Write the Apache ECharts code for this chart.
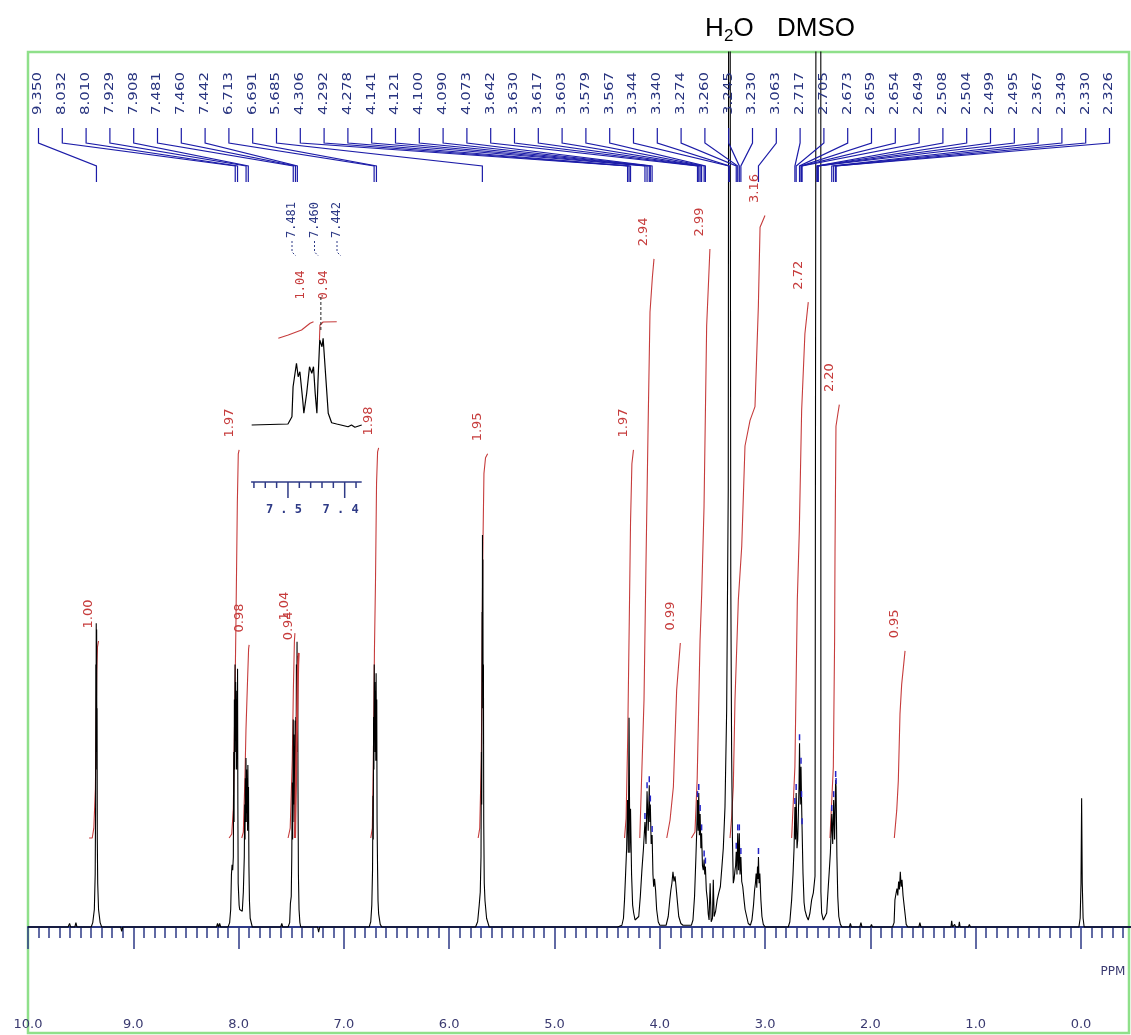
<!DOCTYPE html>
<html><head><meta charset="utf-8">
<script src="https://cdn.jsdelivr.net/npm/echarts@6/dist/echarts.min.js"></script>
<style>html,body{margin:0;padding:0;background:#fff}#c{width:1131px;height:1035px}</style>
</head><body><div id="c"></div>
<script>
// ---------------- DATA ----------------
// picked peaks (ppm), listed left to right at the top
const peakList = [9.350, 8.032, 8.010, 7.929, 7.908, 7.481, 7.460, 7.442, 6.713, 6.691, 5.685,
  4.306, 4.292, 4.278, 4.141, 4.121, 4.100, 4.090, 4.073, 3.642, 3.630, 3.617, 3.603, 3.579, 3.567,
  3.344, 3.340, 3.274, 3.260, 3.245, 3.230, 3.063, 2.717, 2.705, 2.673, 2.659, 2.654, 2.649,
  2.508, 2.504, 2.499, 2.495, 2.367, 2.349, 2.330, 2.326];

// spectrum [ppm, intensity] by region
const specHigh = [[10.0,0],[9.62,0],[9.605,0.4],[9.595,0],[9.555,0],[9.545,0.5],[9.535,0],[9.40,0],[9.385,0.5],[9.37,2],[9.362,6],[9.358,14],[9.356,30],[9.354,20],[9.352,34.7],[9.350,28],[9.348,34],[9.346,18],[9.344,25],[9.342,10],[9.338,5],[9.33,2],[9.315,0.5],[9.30,0],[9.12,0],[9.11,-0.5],[9.10,0],[8.21,0],[8.20,0.4],[8.19,0],[8.18,0.4],[8.17,0]];
const specArom = [[8.10,0],[8.085,0.5],[8.075,2],[8.068,6],[8.062,7.1],[8.056,6.5],[8.050,8],[8.046,20],[8.043,12],[8.040,26],[8.037,18],[8.034,30],[8.031,22],[8.028,28],[8.025,20],[8.022,26],[8.019,18],[8.016,27],[8.013,20],[8.010,29.5],[8.007,14],[8.004,5],[8.0,3.9],[7.995,2.5],[7.99,2],[7.965,1.8],[7.955,4],[7.946,8],[7.942,14],[7.939,10],[7.936,17],[7.933,12],[7.930,19.3],[7.927,13],[7.924,18],[7.921,12],[7.918,17],[7.915,11],[7.912,18.5],[7.909,12],[7.906,16],[7.902,7],[7.897,3],[7.89,1],[7.87,0],[7.60,0],[7.59,0.4],[7.58,0]];
const spec7 = [[7.53,0],[7.515,0.5],[7.508,2.7],[7.50,3.5],[7.495,8],[7.490,16.5],[7.487,10],[7.484,16],[7.481,23.7],[7.478,14],[7.475,22],[7.472,12],[7.469,20],[7.466,14],[7.463,23.6],[7.460,15],[7.457,24],[7.454,18],[7.451,30],[7.448,20],[7.445,32.6],[7.442,22],[7.439,31],[7.436,16],[7.432,6],[7.426,2],[7.418,0.5],[7.41,0],[7.25,0],[7.24,-0.6],[7.23,0],
  [6.76,0],[6.745,0.6],[6.735,2.5],[6.728,6.5],[6.724,15],[6.721,10],[6.718,24],[6.715,18],[6.712,30],[6.709,22],[6.706,28],[6.703,20],[6.700,27],[6.697,19],[6.694,29],[6.691,21],[6.688,26],[6.685,12],[6.680,6.5],[6.676,3],[6.67,1.5],[6.655,0.3],[6.64,0]];
const spec5 = [[5.75,0],[5.73,0.6],[5.715,2.5],[5.705,4],[5.698,8],[5.694,20],[5.691,14],[5.688,36],[5.686,28],[5.684,44.8],[5.682,32],[5.680,42],[5.678,25],[5.675,30],[5.672,12],[5.667,5],[5.66,3],[5.645,1],[5.62,0]];
const specAli = [[4.40,0],[4.36,0.2],[4.345,1.0],[4.335,3.1],[4.325,6],[4.315,9],[4.306,14.5],[4.299,8.5],[4.292,23.9],[4.285,8.5],[4.278,13.5],[4.268,6],[4.258,2.5],[4.248,1.6],[4.235,0.8],[4.22,0.6],[4.20,1.2],[4.185,3.5],[4.17,6.5],[4.155,9],[4.141,12],[4.131,9.5],[4.121,15.5],[4.110,11],[4.100,16.2],[4.095,12],[4.090,14],[4.082,9.5],[4.073,10.5],[4.065,6],[4.058,4.6],[4.05,5.5],[4.04,4.2],[4.03,2],[4.015,0.6],[4.00,0.2],[3.94,0.2],[3.92,1.2],[3.905,3.1],[3.895,4.2],[3.885,5.0],[3.875,6.3],[3.865,5.2],[3.855,5.8],[3.845,4.5],[3.83,2.5],[3.82,1.2],[3.80,0.4],[3.78,0.2],[3.70,0.2],[3.685,0.8],[3.67,3.5],[3.657,8],[3.650,10.7],[3.642,14.5],[3.636,11],[3.630,15.3],[3.624,10.5],[3.617,12.9],[3.610,9],[3.603,10.7],[3.595,7],[3.587,6.5],[3.579,7.7],[3.573,6],[3.567,6.9],[3.558,4.2],[3.548,3.1],[3.54,1.5],[3.532,0.8],[3.522,5.0],[3.512,0.6],[3.50,1.0],[3.492,5.4],[3.484,1.2],[3.47,1.8],[3.455,3.1],[3.44,3.9],[3.425,4.6],[3.41,6.9],[3.397,9],[3.381,13.7],[3.365,24.8],[3.350,50],[3.340,200],[3.336,200],[3.326,40],[3.318,20],[3.310,10],[3.302,5.0],[3.294,5.5],[3.286,6.5],[3.280,7],[3.274,8.6],[3.267,6],[3.260,10.7],[3.252,6.5],[3.245,10.7],[3.238,6],[3.230,8.0],[3.222,5.2],[3.212,4.6],[3.20,3.1],[3.19,2.0],[3.175,1.2],[3.16,0.4],[3.14,0.2],[3.125,0.8],[3.11,2.5],[3.10,4.2],[3.092,5],[3.085,6.1],[3.079,4.5],[3.072,6.9],[3.068,5.5],[3.063,8.0],[3.057,5],[3.050,6.1],[3.04,3.1],[3.03,1.2],[3.017,0.3],[3.00,0],[2.78,0],[2.765,0.6],[2.748,3.1],[2.735,6],[2.725,9],[2.717,13.7],[2.711,10],[2.705,15.3],[2.697,9],[2.690,10],[2.684,13],[2.678,16],[2.673,21.0],[2.666,14],[2.659,18.3],[2.654,14.5],[2.649,11.4],[2.640,6.1],[2.630,2.8],[2.621,1.9],[2.605,1.2],[2.59,0.8],[2.574,1.6],[2.558,3.1],[2.542,3.9],[2.526,5.8],[2.512,6],[2.509,200],[2.472,200],[2.470,4],[2.463,1.6],[2.447,0.8],[2.431,0.6],[2.415,1.6],[2.400,4.6],[2.39,6.5],[2.38,8.5],[2.367,12.9],[2.358,9.5],[2.349,14.5],[2.340,10],[2.330,16.8],[2.326,16.0],[2.318,8],[2.31,3.5],[2.30,1.2],[2.285,0.3],[2.27,0],[2.20,0],[2.19,0.4],[2.18,0],[2.10,0],[2.09,0.5],[2.08,0],[2.00,0],[1.99,0.3],[1.98,0]];
const specLow = [[1.79,0],[1.775,0.5],[1.767,3.1],[1.757,3.8],[1.748,4.4],[1.740,3.6],[1.732,5.2],[1.724,4.3],[1.716,6.3],[1.708,4.6],[1.700,5.4],[1.690,3.6],[1.680,2.5],[1.668,1.2],[1.660,0.3],[1.645,0],[1.54,0],[1.53,0.5],[1.52,0],[1.235,0],[1.228,0.7],[1.22,0],[1.20,0.3],[1.19,0],[1.162,0],[1.155,0.6],[1.148,0],[1.07,0],[1.06,0.3],[1.05,0],[0.02,0],[0.008,1],[0.0,5],[-0.006,14.7],[-0.012,5],[-0.02,1],[-0.03,0],[-1.0,0]];

// integral curves [ppm, integral]
const int100 = [[9.42,0],[9.39,0],[9.375,0.05],[9.36,0.25],[9.353,0.55],[9.347,0.85],[9.34,0.97],[9.33,1.0]];
const int197a = [[8.09,0],[8.065,0.02],[8.05,0.15],[8.035,0.7],[8.025,1.1],[8.012,1.7],[8.003,1.95],[7.995,1.97]];
const int098 = [[7.97,0],[7.955,0.03],[7.94,0.3],[7.93,0.55],[7.915,0.8],[7.905,0.96],[7.90,0.98]];
const int104 = [[7.53,0],[7.51,0.05],[7.49,0.4],[7.48,0.75],[7.47,1.0],[7.465,1.04]];
const int094 = [[7.465,0],[7.455,0.3],[7.445,0.6],[7.435,0.88],[7.43,0.94]];
const int198 = [[6.745,0],[6.73,0.05],[6.72,0.4],[6.71,0.95],[6.70,1.3],[6.69,1.8],[6.68,1.96],[6.67,1.98]];
const int195 = [[5.725,0],[5.71,0.05],[5.695,0.4],[5.688,0.9],[5.682,1.4],[5.67,1.85],[5.655,1.93],[5.635,1.95]];
const int197b = [[4.335,0],[4.32,0.1],[4.305,0.5],[4.29,1.1],[4.278,1.6],[4.265,1.9],[4.25,1.97]];
const int294 = [[4.19,0],[4.15,0.70],[4.131,1.40],[4.112,2.06],[4.093,2.67],[4.07,2.85],[4.055,2.94]];
const int099 = [[3.934,0],[3.903,0.09],[3.871,0.26],[3.856,0.50],[3.840,0.75],[3.808,0.97],[3.805,0.99]];
const int299 = [[3.70,0],[3.666,0.03],[3.645,0.3],[3.634,0.58],[3.618,1.0],[3.602,1.24],[3.580,1.68],[3.555,2.60],[3.535,2.85],[3.524,2.99]];
const int316 = [[3.333,0],[3.317,0.11],[3.302,0.26],[3.286,0.70],[3.254,1.21],[3.222,1.48],[3.191,1.99],[3.143,2.12],[3.096,2.19],[3.064,2.70],[3.048,3.10],[3.001,3.16]];
const int272 = [[2.748,0],[2.717,0.36],[2.694,1.21],[2.675,1.56],[2.653,2.17],[2.622,2.56],[2.590,2.72]];
const int220 = [[2.384,0],[2.352,0.36],[2.340,1.0],[2.336,1.46],[2.327,2.09],[2.31,2.15],[2.295,2.2]];
const int095 = [[1.773,0],[1.750,0.14],[1.735,0.29],[1.719,0.63],[1.703,0.78],[1.671,0.95]];
const integralLabels = ['1.00','1.97','0.98','1.04','0.94','1.98','1.95','1.97','2.94','0.99','2.99','3.16','2.72','2.20','0.95'];

// inset (7.40 - 7.55 expansion)
const insetSpec = [[7.564,0],[7.500,0.8],[7.493,6.6],[7.491,30.6],[7.485,49.4],[7.482,38.6],[7.479,42.6],[7.474,20],[7.472,9.4],[7.467,25.4],[7.462,46.6],[7.458,41.4],[7.455,46.6],[7.452,25.4],[7.449,9.4],[7.447,36],[7.444,68],[7.440,62.6],[7.438,69.4],[7.433,36],[7.429,9.4],[7.423,1.8],[7.414,0.8],[7.394,-1.4],[7.388,0],[7.382,-1.8],[7.370,0]];
const insetIntA = [[7.517,69.4],[7.4995,72],[7.476,76],[7.461,81.4],[7.455,82.6]];
const insetIntB = [[7.4445,68],[7.4436,80],[7.438,82.4],[7.414,82.6]];
const insetPeaks = [7.481, 7.460, 7.442];
const insetIntLabels = ['1.04', '0.94'];
const insetTicks = [7.56, 7.54, 7.52, 7.50, 7.48, 7.46, 7.44, 7.42, 7.40, 7.38];
const insetTickLabels = {'7.50': '7 . 5', '7.40': '7 . 4'};

// ---------------- CHART ----------------
const spectrum = [].concat(specHigh, specArom, spec7, spec5, specAli, specLow);
const integrals = [int100, int197a, int098, int104, int094, int198, int195, int197b, int294, int099, int299, int316, int272, int220, int095];

const NAVY = '#2e3a86';
const RED = '#c63c3c';
const LBL_X0 = 38.5, LBL_DX = 23.8;
const INS_X0 = 292, INS_DX = 22.5;

function apexOf(p) {
  for (const pt of spectrum) { if (Math.abs(pt[0] - p) < 1e-6) return pt[1]; }
  return null;
}

const chart = echarts.init(document.getElementById('c'), null, {renderer: 'canvas'});

const series = [];
series.push({
  type: 'line', xAxisIndex: 0, yAxisIndex: 0, data: spectrum, symbol: 'none',
  lineStyle: {color: '#000', width: 1.1}, z: 3, silent: true, animation: false
});
integrals.forEach((arr, k) => {
  series.push({
    type: 'line', xAxisIndex: 0, yAxisIndex: 1, data: arr, symbol: 'none',
    lineStyle: {color: RED, width: k === 4 ? 2.2 : 1.1}, z: k === 4 ? 4 : 2, silent: true, animation: false
  });
});
// integral labels
series.push({
  type: 'custom', xAxisIndex: 0, yAxisIndex: 1, clip: false, silent: true, z: 6,
  data: integrals.map((arr, k) => [arr[arr.length - 1][0], arr[arr.length - 1][1], k]),
  renderItem: function (params, api) {
    const c = api.coord([api.value(0), api.value(1)]);
    return {type: 'text', x: c[0] - 10, y: c[1] - 27, rotation: Math.PI / 2,
      style: {text: integralLabels[api.value(2)], fill: RED, font: '13px "DejaVu Sans"', align: 'center', verticalAlign: 'middle'}};
  }
});
// peak list labels and leader lines
series.push({
  type: 'custom', xAxisIndex: 0, yAxisIndex: 0, clip: false, silent: true, z: 7,
  data: peakList.map((p, i) => [p, i]),
  renderItem: function (params, api) {
    const p = api.value(0), i = api.value(1);
    const xp = api.coord([p, 0])[0];
    const xl = LBL_X0 + i * LBL_DX;
    const ch = [
      {type: 'text', x: xl, y: 93.5, rotation: Math.PI / 2, scaleX: 1.3,
        style: {text: p.toFixed(3), fill: '#27337f', font: '11.5px "DejaVu Sans"', align: 'center', verticalAlign: 'middle'}},
      {type: 'polyline', shape: {points: [[xl, 128], [xl, 143], [xp, 166], [xp, 182]]},
        style: {stroke: '#1c1ca8', lineWidth: 1.2, fill: null}}
    ];
    const a = apexOf(p);
    if (a !== null && a < 100 && p < 4.2) {
      const top = api.coord([p, a])[1];
      ch.push({type: 'line', shape: {x1: xp, y1: top - 3, x2: xp, y2: top - 9}, style: {stroke: '#2424c8', lineWidth: 1.5}});
    }
    return {type: 'group', children: ch};
  }
});
// inset spectrum
series.push({
  type: 'line', xAxisIndex: 1, yAxisIndex: 2, data: insetSpec, symbol: 'none',
  lineStyle: {color: '#000', width: 1.2}, z: 3, silent: true, animation: false
});
[insetIntA, insetIntB].forEach(arr => series.push({
  type: 'line', xAxisIndex: 1, yAxisIndex: 2, data: arr, symbol: 'none',
  lineStyle: {color: RED, width: 1.1}, z: 3, silent: true, animation: false
}));
// inset ruler
series.push({
  type: 'custom', xAxisIndex: 1, yAxisIndex: 2, clip: false, silent: true, z: 5,
  data: insetTicks.map(t => [t]),
  renderItem: function (params, api) {
    const t = api.value(0);
    const x = api.coord([t, 0])[0];
    const key = t.toFixed(2);
    const major = insetTickLabels[key] !== undefined;
    const ch = [{type: 'line', shape: {x1: x, y1: 482, x2: x, y2: major ? 498 : 488}, style: {stroke: NAVY, lineWidth: 1.5}}];
    if (params.dataIndex === 0) {
      const xa = api.coord([7.565, 0])[0], xb = api.coord([7.37, 0])[0];
      ch.push({type: 'line', shape: {x1: xa, y1: 482, x2: xb, y2: 482}, style: {stroke: NAVY, lineWidth: 1.5}});
    }
    if (major) ch.push({type: 'text', x: x - 4, y: 510, style: {text: insetTickLabels[key], fill: NAVY, font: 'bold 12px "DejaVu Sans Mono"', align: 'center', verticalAlign: 'middle'}});
    return {type: 'group', children: ch};
  }
});
// inset peak labels
series.push({
  type: 'custom', xAxisIndex: 1, yAxisIndex: 2, clip: false, silent: true, z: 6,
  data: insetPeaks.map((p, i) => [p, i]),
  renderItem: function (params, api) {
    const p = api.value(0), i = api.value(1);
    const xpk = api.coord([p, 0])[0];
    const xl = INS_X0 + i * INS_DX;
    const ch = [
      {type: 'text', x: xl, y: 220, rotation: Math.PI / 2,
        style: {text: p.toFixed(3), fill: NAVY, font: '12px "DejaVu Sans Mono"', align: 'center', verticalAlign: 'middle'}},
      {type: 'polyline', shape: {points: [[xl, 241], [xl, 252], [xl + 4, 256]]}, style: {stroke: NAVY, lineWidth: 1, lineDash: [2, 2], fill: null}}
    ];
    if (i < insetIntLabels.length) {
      ch.push({type: 'text', x: xl + 9, y: 285, rotation: Math.PI / 2,
        style: {text: insetIntLabels[i], fill: RED, font: '12px "DejaVu Sans Mono"', align: 'center', verticalAlign: 'middle'}});
    }
    if (i === insetPeaks.length - 1) {
      ch.push({type: 'line', shape: {x1: xpk, y1: 297, x2: xpk, y2: 332}, style: {stroke: '#222', lineWidth: 1, lineDash: [3, 2]}});
    }
    return {type: 'group', children: ch};
  }
});

chart.setOption({
  animation: false,
  backgroundColor: '#fff',
  grid: [
    {left: 28, top: 52, width: 1158.3, height: 934, show: false, outerBoundsMode: 'none', containLabel: false},
    {left: 251.1, top: 300, width: 110.6, height: 131.25, show: false, outerBoundsMode: 'none', containLabel: false}
  ],
  xAxis: [
    {type: 'value', gridIndex: 0, min: -1, max: 10, interval: 1, inverse: true, position: 'bottom',
      axisLine: {show: true, lineStyle: {color: NAVY, width: 2}},
      axisTick: {show: true, length: 22, lineStyle: {color: NAVY, width: 1.5}},
      minorTick: {show: true, splitNumber: 10, length: 11, lineStyle: {color: NAVY, width: 1.5}},
      axisLabel: {show: true, margin: 32, color: '#3a3a70', fontSize: 13, fontFamily: 'DejaVu Sans',
        showMinLabel: true, showMaxLabel: true,
        formatter: v => (v < 0 ? '' : v.toFixed(1))},
      splitLine: {show: false}, minorSplitLine: {show: false}},
    {type: 'value', gridIndex: 1, min: 7.37, max: 7.565, inverse: true, show: false}
  ],
  yAxis: [
    {type: 'value', gridIndex: 0, min: -6.743, max: 100, show: false},
    {type: 'value', gridIndex: 0, min: -0.7513, max: 3.990, show: false},
    {type: 'value', gridIndex: 1, min: -5, max: 100, show: false}
  ],
  graphic: [
    {type: 'rect', shape: {x: 28, y: 52, width: 1101, height: 981}, style: {fill: null, stroke: '#8fe08a', lineWidth: 2.5}, z: 0, silent: true},
    {type: 'text', x: 705, y: 29, style: {text: 'H', font: '26px "Liberation Sans"', fill: '#000', verticalAlign: 'middle'}, silent: true},
    {type: 'text', x: 724, y: 36, style: {text: '2', font: '17px "Liberation Sans"', fill: '#000', verticalAlign: 'middle'}, silent: true},
    {type: 'text', x: 733.5, y: 29, style: {text: 'O', font: '26px "Liberation Sans"', fill: '#000', verticalAlign: 'middle'}, silent: true},
    {type: 'text', x: 777, y: 29, style: {text: 'DMSO', font: '26px "Liberation Sans"', fill: '#000', verticalAlign: 'middle'}, silent: true},
    {type: 'text', x: 1113, y: 972, style: {text: 'PPM', font: '12px "DejaVu Sans"', fill: '#3a3a70', align: 'center', verticalAlign: 'middle'}, silent: true}
  ],
  series: series
});
</script></body></html>
